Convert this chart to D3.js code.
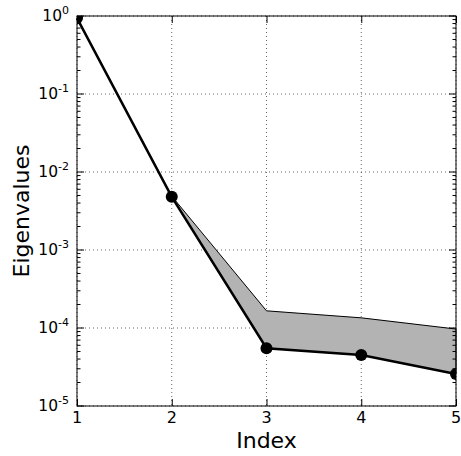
<!DOCTYPE html>
<html><head><meta charset="utf-8">
<script src="https://cdn.jsdelivr.net/npm/d3@7"></script>
<style>body{margin:0;background:#fff}svg{display:block}text{font-family:"DejaVu Sans",sans-serif;fill:#000}</style>
</head><body><svg id="c" width="461" height="456"></svg>
<script>
const indices = [1, 2, 3, 4, 5];
const eigenLower = [0.94, 4.8e-3, 5.5e-5, 4.5e-5, 2.57e-5];
const eigenUpper = [0.94, 4.9e-3, 1.66e-4, 1.35e-4, 9.7e-5];
const xTicks = [1, 2, 3, 4, 5];
const yTickExps = [0, -1, -2, -3, -4, -5];

const svg = d3.select("#c");
const L = 77, R = 456, T = 16, B = 406;
const x = d3.scaleLinear().domain([1, 5]).range([L, R]);
const y = d3.scaleLog().domain([1e-5, 1]).range([B, T]);

const g = svg.append("g");
// grid
g.selectAll(".gx").data(xTicks).enter().append("line")
  .attr("x1", d => x(d)).attr("x2", d => x(d)).attr("y1", T).attr("y2", B)
  .attr("stroke", "#000").attr("stroke-width", 0.6).attr("stroke-dasharray", "1,3");
g.selectAll(".gy").data(yTickExps).enter().append("line")
  .attr("y1", d => y(Math.pow(10, d))).attr("y2", d => y(Math.pow(10, d))).attr("x1", L).attr("x2", R)
  .attr("stroke", "#000").attr("stroke-width", 0.6).attr("stroke-dasharray", "1,3");

// fill between
const data = indices.map((d, i) => ({i: d, lo: eigenLower[i], hi: eigenUpper[i]}));
g.append("path").datum(data)
  .attr("d", d3.area().x(d => x(d.i)).y0(d => y(d.lo)).y1(d => y(d.hi)))
  .attr("fill", "#b3b3b3").attr("stroke", "#000").attr("stroke-width", 1);
// line
g.append("path").datum(data)
  .attr("d", d3.line().x(d => x(d.i)).y(d => y(d.lo)))
  .attr("fill", "none").attr("stroke", "#000").attr("stroke-width", 2.5);

// clip markers to plot region
svg.append("clipPath").attr("id", "pc").append("rect").attr("x", L).attr("y", T).attr("width", R - L).attr("height", B - T);
g.append("g").attr("clip-path", "url(#pc)").selectAll("circle").data(data).enter().append("circle")
  .attr("cx", d => x(d.i)).attr("cy", d => y(d.lo)).attr("r", 6).attr("fill", "#000");

// frame
g.append("rect").attr("x", L).attr("y", T).attr("width", R - L).attr("height", B - T)
  .attr("fill", "none").attr("stroke", "#000").attr("stroke-width", 1);

// x ticks
const xa = d3.axisBottom(x).tickValues(xTicks).tickSize(-7).tickFormat("");
const xg = svg.append("g").attr("transform", `translate(0,${B})`).call(xa);
xg.select(".domain").remove();
svg.append("g").selectAll("text").data(xTicks).enter().append("text")
  .attr("x", d => x(d)).attr("y", 423).attr("text-anchor", "middle").attr("font-size", 16).text(d => d);
const xt = d3.axisTop(x).tickValues(xTicks).tickSize(-7).tickFormat("");
const xtg = svg.append("g").attr("transform", `translate(0,${T})`).call(xt);
xtg.select(".domain").remove();

// y ticks (major + minor) left and right
const minor = [];
for (let e = -5; e < 0; e++) for (let m = 2; m <= 9; m++) minor.push(m * Math.pow(10, e));
function yTicks(side) {
  const x0 = side === "l" ? L : R, dir = side === "l" ? 1 : -1;
  svg.append("g").selectAll("line").data(yTickExps).enter().append("line")
    .attr("x1", x0).attr("x2", x0 + dir * 7).attr("y1", d => y(Math.pow(10, d))).attr("y2", d => y(Math.pow(10, d)))
    .attr("stroke", "#000").attr("stroke-width", 1);
  svg.append("g").selectAll("line").data(minor).enter().append("line")
    .attr("x1", x0).attr("x2", x0 + dir * 3.5).attr("y1", d => y(d)).attr("y2", d => y(d))
    .attr("stroke", "#000").attr("stroke-width", 1);
}
yTicks("l"); yTicks("r");

// y labels
const yl = svg.append("g").selectAll("text").data(yTickExps).enter().append("text")
  .attr("x", L - 8).attr("y", d => y(Math.pow(10, d)) + 5).attr("text-anchor", "end").attr("font-size", 15.5);
yl.append("tspan").text("10");
yl.append("tspan").attr("dy", -7).attr("font-size", 11).text(d => d);

svg.append("text").attr("x", (L + R) / 2).attr("y", 448).attr("text-anchor", "middle").attr("font-size", 22).text("Index");
svg.append("text").attr("transform", `translate(29,${(T + B) / 2}) rotate(-90)`).attr("text-anchor", "middle").attr("font-size", 22).text("Eigenvalues");
</script></body></html>
